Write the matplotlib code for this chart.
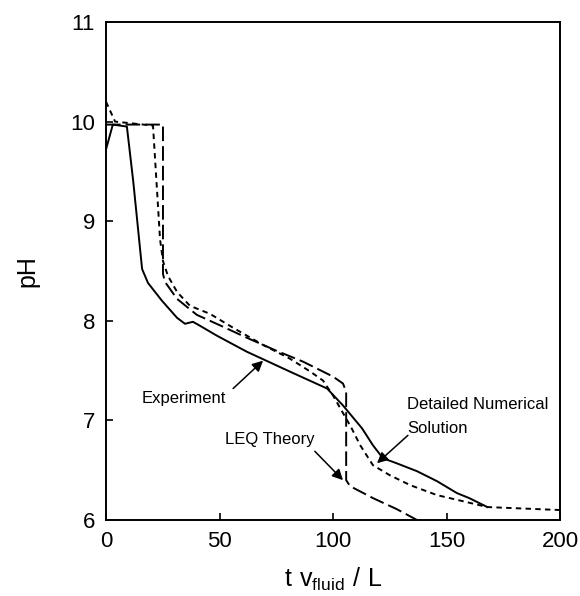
import matplotlib.pyplot as plt
import numpy as np

plt.rcParams['font.family'] = ['Liberation Sans', 'DejaVu Sans']

# experiment (solid)
exp_x = [0, 3, 9.2, 12, 15.9, 18.5, 24.7, 31.3, 34.8, 38.3, 41.4, 48.9, 62, 81,
         97.4, 104.4, 112.8, 117.6, 122, 128, 137, 145.8, 154.6, 160, 168]
exp_y = [9.72, 9.97, 9.95, 9.4, 8.52, 8.38, 8.2, 8.03, 7.97, 7.99, 7.95, 7.85, 7.69, 7.49,
         7.32, 7.15, 6.92, 6.75, 6.62, 6.57, 6.49, 6.39, 6.27, 6.22, 6.13]

# LEQ theory (long dashes)
leq_x = [0, 25.1, 25.1, 26, 31.3, 40, 51.6, 62, 75, 86.8, 100, 104.4, 105.8, 105.8,
         107.5, 117.6, 128, 137]
leq_y = [9.97, 9.97, 8.47, 8.39, 8.22, 8.06, 7.94, 7.83, 7.70, 7.59, 7.44, 7.37, 7.29, 6.40,
         6.34, 6.22, 6.11, 6.0]

# detailed numerical solution (short dashes)
num_x = [0, 4, 20.7, 22.5, 23.8, 25.1, 27.3, 31.3, 37, 45.8, 56, 69, 81, 90, 95.6,
         100, 105, 108, 112, 117.6, 125, 134, 145.8, 157, 168, 200]
num_y = [10.2, 10.0, 9.96, 9.3, 8.82, 8.6, 8.45, 8.29, 8.15, 8.07, 7.93, 7.76, 7.62, 7.49, 7.40,
         7.25, 7.05, 6.93, 6.75, 6.55, 6.45, 6.35, 6.25, 6.19, 6.13, 6.1]

fig = plt.figure(figsize=(5.8, 5.96), dpi=100)
ax = fig.add_axes([106/580, 1-520/596, 454/580, 498/596])

ax.plot(exp_x, exp_y, color='black', lw=1.4)
ax.plot(leq_x, leq_y, color='black', lw=1.4, dashes=(7.5, 2.6))
ax.plot(num_x, num_y, color='black', lw=1.4, dashes=(2.8, 2.2))

ax.set_xlim(0, 200)
ax.set_ylim(6, 11)
ax.set_xticks([0, 50, 100, 150, 200])
ax.set_yticks([6, 7, 8, 9, 10, 11])
ax.tick_params(direction='in', length=5, width=1.2, labelsize=16, pad=8)
for s in ax.spines.values():
    s.set_linewidth(1.4)

ax.set_ylabel('pH', fontsize=18, labelpad=22)
ax.set_xlabel(r'$\mathregular{t\ v_{fluid}\ /\ L}$', fontsize=18, labelpad=10)

arrow = dict(arrowstyle='-|>', color='black', lw=1.1, mutation_scale=16,
             shrinkA=0, shrinkB=0)

ax.text(15.9, 7.22, 'Experiment', fontsize=12, ha='left', va='center')
ax.annotate('', xy=(69.2, 7.60), xytext=(56, 7.32), arrowprops=arrow)

ax.text(52.4, 6.81, 'LEQ Theory', fontsize=12, ha='left', va='center')
ax.annotate('', xy=(104.4, 6.40), xytext=(92, 6.69), arrowprops=arrow)

ax.text(132.6, 7.16, 'Detailed Numerical', fontsize=12, ha='left', va='center')
ax.text(132.6, 6.92, 'Solution', fontsize=12, ha='left', va='center')
ax.annotate('', xy=(119.4, 6.57), xytext=(133, 6.85), arrowprops=arrow)

fig.savefig('out.png', dpi=100)
